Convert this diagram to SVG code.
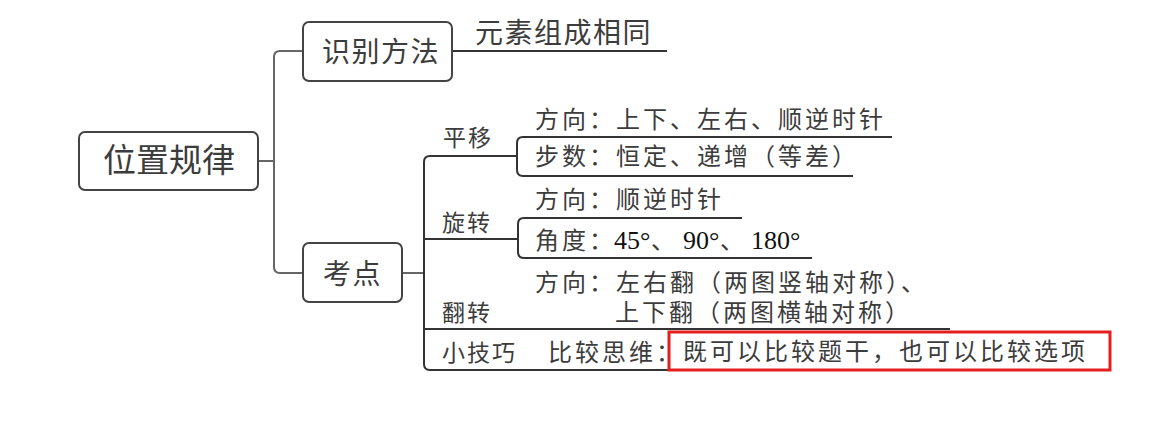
<svg xmlns="http://www.w3.org/2000/svg" width="1156" height="430" viewBox="0 0 1156 430">
<style>
.box{fill:#fff;stroke:#444;stroke-width:2}
.con{fill:none;stroke:#666;stroke-width:2}
.ul{fill:none;stroke:#333;stroke-width:2}
text{font-family:"Liberation Serif","Noto Sans CJK SC",serif;fill:#3c3c3c}
.big{font-size:33px}
.mid{font-size:28px;letter-spacing:1.5px}
.lab{font-size:23px;letter-spacing:2px}
.sm{font-size:24px;letter-spacing:3px}
.num{fill:#111;letter-spacing:0;font-size:26px}
</style>
<rect width="1156" height="430" fill="#fff"/>
<g id="connectors">
<path class="con" d="M258 161 H274"/>
<path class="con" d="M303 51 H280 Q274 51 274 57 V267 Q274 273 280 273 H303"/>
<path class="ul" d="M452 51 H667"/>
<path class="con" d="M402 273 H424"/>
<path class="ul" d="M517 156 H430 Q424 156 424 162 V364 Q424 370 430 370 H669"/>
<path class="ul" d="M892 137 H523 Q517 137 517 143 V170 Q517 176 523 176 H853"/>
<path class="ul" d="M424 239 H518"/>
<path class="ul" d="M742 218 H524 Q518 218 518 224 V252 Q518 258 524 258 H812"/>
<path class="ul" d="M424 329 H950"/>
</g>
<g id="root">
<rect class="box" x="79" y="132" width="179" height="58" rx="6"/>
<text class="big" x="103" y="172">位置规律</text>
</g>
<g id="shibie">
<rect class="box" x="303" y="22" width="149" height="59" rx="6"/>
<text class="mid" x="322" y="62">识别方法</text>
</g>
<g id="yuansu">
<text class="mid" x="475" y="43">元素组成相同</text>
</g>
<g id="kaodian">
<rect class="box" x="303" y="243" width="99" height="59" rx="6"/>
<text class="mid" x="323" y="284">考点</text>
</g>
<g id="pingyi">
<text class="lab" x="443" y="146">平移</text>
<text class="sm" x="535" y="128">方向：上下、左右、顺逆时针</text>
<text class="sm" x="535" y="165">步数：恒定、递增（等差）</text>
</g>
<g id="xuanzhuan">
<text class="lab" x="442" y="231">旋转</text>
<text class="sm" x="535" y="208">方向：顺逆时针</text>
<text class="sm" x="535" y="249">角度：<tspan class="num" x="614">45°</tspan><tspan x="651">、</tspan><tspan class="num" x="683">90°</tspan><tspan x="720">、</tspan><tspan class="num" x="751">180°</tspan></text>
</g>
<g id="fanzhuan">
<text class="lab" x="442" y="321">翻转</text>
<text class="sm" x="535" y="291">方向：左右翻（两图竖轴对称）、</text>
<text class="sm" x="615" y="321">上下翻（两图横轴对称）</text>
</g>
<g id="xiaojiqiao">
<text class="lab" x="442" y="361">小技巧</text>
<text class="sm" x="548" y="361">比较思维：</text>
<rect x="669" y="332" width="441" height="38" fill="none" stroke="#e31e1e" stroke-width="3"/>
<text class="sm" x="683" y="360">既可以比较题干，也可以比较选项</text>
</g>
</svg>
